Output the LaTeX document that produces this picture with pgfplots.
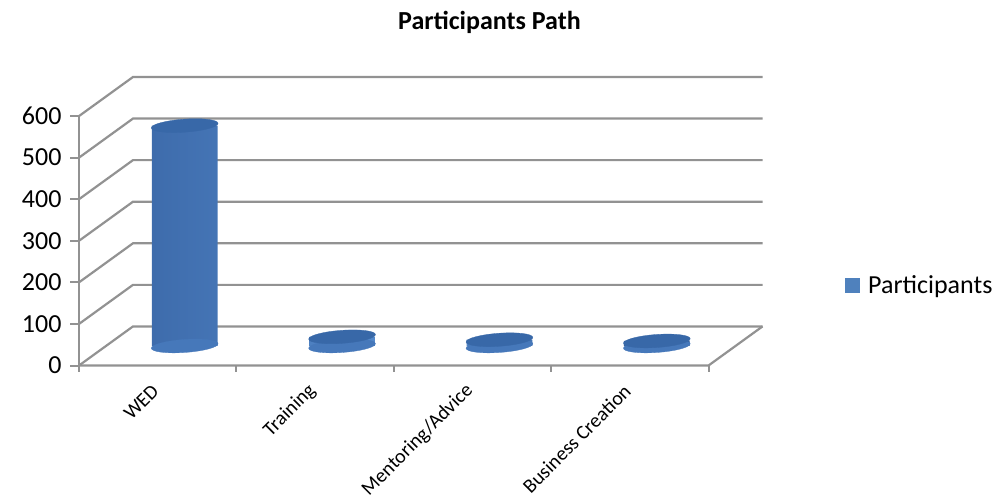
\documentclass[border=0pt]{standalone}
\usepackage{fontspec}
\setmainfont{Carlito}
\usepackage{pgfplots}
\pgfplotsset{compat=1.18}
\usepackage{pgfplotstable}

\definecolor{gridgray}{RGB}{146,146,146}
\definecolor{barmid}{RGB}{88,142,208}
\definecolor{barleft}{RGB}{62,108,172}
\definecolor{barright}{RGB}{44,84,140}
\definecolor{bartop}{RGB}{56,104,168}
\definecolor{barbase}{RGB}{70,120,186}
\definecolor{legendblue}{RGB}{79,129,189}

% Participants per stage of the path
\pgfplotstableread{
idx value
0 530
1 22
2 15
3 12
}\participants

% Oblique 3-D look: the back wall sits 0.343 category units to the right
% and 94 value units above the front plane; cylinders stand half way.
\newcommand{\cylx}{0.6715}

\newcommand{\chartfont}{\fontsize{26bp}{31bp}\selectfont}
\newcommand{\catfont}{\fontsize{20bp}{24bp}\selectfont}

\begin{document}
\begin{tikzpicture}
\path[use as bounding box] (0bp,0bp) rectangle (997bp,-502bp);
\begin{axis}[
  at={(79bp,-365.5bp)}, anchor=south west,
  scale only axis, width=683.5bp, height=288.5bp,
  xmin=0, xmax=4.343, ymin=-47, ymax=647,
  axis lines=left, axis line style={draw=none},
  clip=false,
  ytick={-47,53,153,253,353,453,553},
  yticklabels={0,100,200,300,400,500,600},
  xtick={0.5,1.5,2.5,3.5},
  xticklabels={WED,Training,Mentoring/Advice,Business Creation},
  major tick length=0pt,
  yticklabel style={font=\chartfont, anchor=east, xshift=-14bp},
  xticklabel style={font=\catfont, yshift=-20bp, rotate=45, anchor=east},
  legend style={at={(1.1207,0.2773)}, anchor=west, draw=none, fill=none,
    inner sep=0pt, font=\chartfont},
]
% side wall and back wall gridlines
\addplot[gridgray, line width=2.2bp, forget plot] coordinates {(0,-47) (0.343,47) (4.343,47)};
\addplot[gridgray, line width=2.2bp, forget plot] coordinates {(0,53) (0.343,147) (4.343,147)};
\addplot[gridgray, line width=2.2bp, forget plot] coordinates {(0,153) (0.343,247) (4.343,247)};
\addplot[gridgray, line width=2.2bp, forget plot] coordinates {(0,253) (0.343,347) (4.343,347)};
\addplot[gridgray, line width=2.2bp, forget plot] coordinates {(0,353) (0.343,447) (4.343,447)};
\addplot[gridgray, line width=2.2bp, forget plot] coordinates {(0,453) (0.343,547) (4.343,547)};
\addplot[gridgray, line width=2.2bp, forget plot] coordinates {(0,553) (0.343,647) (4.343,647)};
% front value axis with its tick marks
\addplot[gridgray, line width=2.2bp, forget plot] coordinates {(0,-47) (0,553)};
\addplot[gridgray, line width=2bp, forget plot, unbounded coords=jump] coordinates {
  (-0.055,-47) (0,-47) (nan,nan)
  (-0.055,53) (0,53) (nan,nan)
  (-0.055,153) (0,153) (nan,nan)
  (-0.055,253) (0,253) (nan,nan)
  (-0.055,353) (0,353) (nan,nan)
  (-0.055,453) (0,453) (nan,nan)
  (-0.055,553) (0,553)};
% floor front edge with category separators
\addplot[gridgray, line width=2.2bp, forget plot] coordinates {(0,-47) (4,-47) (4.343,47)};
\addplot[gridgray, line width=2bp, forget plot, unbounded coords=jump] coordinates {
  (0,-47) (0,-62) (nan,nan)
  (1,-47) (1,-62) (nan,nan)
  (2,-47) (2,-62) (nan,nan)
  (3,-47) (3,-62) (nan,nan)
  (4,-47) (4,-62)};

% cylinder bases
\addplot[only marks, mark=*, mark size=6.5bp,
  mark options={draw=barbase, fill=barbase, line width=0.3bp, rotate=4, xscale=5.15}, forget plot]
  table[x expr=\thisrow{idx}+\cylx, y expr=0] {\participants};
% cylinder bodies; the legend key is a plain square
\addplot[ybar, bar width=0.418, bar shift=0, draw=none,
  left color=barleft, right color=barright, middle color=barmid,
  legend image code/.code={%
    \pgfsetfillcolor{legendblue}%
    \pgfpathrectangle{\pgfpoint{0bp}{-7.5bp}}{\pgfpoint{15bp}{15bp}}%
    \pgfusepath{fill}%
    \pgfpathrectangle{\pgfpoint{0bp}{-7.5bp}}{\pgfpoint{21bp}{15bp}}%
    \pgfusepath{use as bounding box}}]
  table[x expr=\thisrow{idx}+\cylx, y=value] {\participants};
\addlegendentry{Participants}
% cylinder tops
\addplot[only marks, mark=*, mark size=6.5bp,
  mark options={draw=bartop, fill=bartop, line width=0.3bp, rotate=4, xscale=5.15}, forget plot]
  table[x expr=\thisrow{idx}+\cylx, y=value] {\participants};
\end{axis}
\node[font=\bfseries\chartfont, anchor=base] at (489.5bp,-29.3bp) {Participants Path};
\end{tikzpicture}
\end{document}
